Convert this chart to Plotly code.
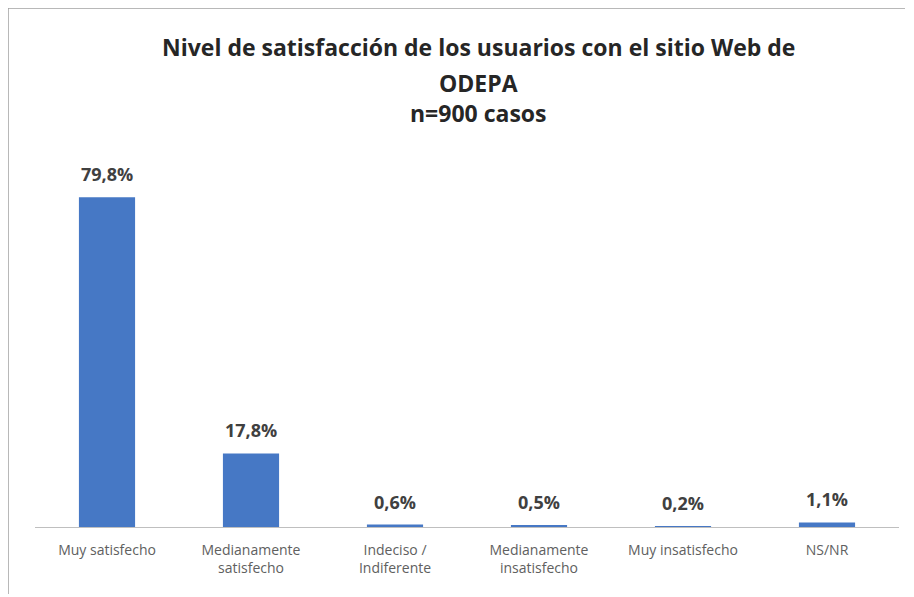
import plotly.graph_objects as go

categories = ["Muy satisfecho", "Medianamente<br>satisfecho", "Indeciso /<br>Indiferente",
              "Medianamente<br>insatisfecho", "Muy insatisfecho", "NS/NR"]
values = [79.8, 17.8, 0.6, 0.5, 0.2, 1.1]
labels = [f"<b>{v:.1f}%</b>".replace(".", ",") for v in values]
title_lines = ["Nivel de satisfacción de los usuarios con el sitio Web de", "ODEPA", "n=900 casos"]

W, H = 914, 597
ML, MR, MT, MB = 27, 23, 147, 78

fig = go.Figure(go.Bar(
    x=categories, y=values,
    marker=dict(color="#4678C5", line=dict(width=0)),
    width=0.39,
))

annotations = [
    dict(x=c, y=v, text=t, xref="x", yref="y", showarrow=False,
         yanchor="bottom", yshift=9,
         font=dict(family="Open Sans", size=18, color="#404040"))
    for c, v, t in zip(categories, values, labels)
]

pw = W - ML - MR
ph = H - MT - MB
def px_x(x):
    return (x - ML) / pw
def px_y(y):
    return (H - MB - y) / ph

for line, yc in zip(title_lines, [39, 75, 105]):
    annotations.append(dict(
        text=f"<b>{line}</b>",
        x=px_x(470), xref="paper", y=px_y(yc), yref="paper", showarrow=False,
        font=dict(family="Open Sans", size=23, color="#262626"),
        xanchor="center", yanchor="middle", align="center"))

fig.update_layout(
    width=W, height=H,
    margin=dict(l=ML, r=MR, t=MT, b=MB),
    paper_bgcolor="white", plot_bgcolor="white",
    showlegend=False,
    xaxis=dict(showline=True, linecolor="#BFBFBF", linewidth=1, ticks="",
               ticklabelstandoff=10,
               tickfont=dict(family="Open Sans", size=14, color="#606060")),
    yaxis=dict(range=[0, 90], visible=False),
    font=dict(family="Open Sans"),
    annotations=annotations,
    shapes=[
        dict(type="line", xref="paper", yref="paper", x0=px_x(0), x1=px_x(897), y0=px_y(0), y1=px_y(0),
             line=dict(color="#A0A0A0", width=1.5)),
        dict(type="line", xref="paper", yref="paper", x0=px_x(0), x1=px_x(0), y0=px_y(0), y1=px_y(586),
             line=dict(color="#A0A0A0", width=1.5)),
    ],
)
fig.write_html("out.html")
